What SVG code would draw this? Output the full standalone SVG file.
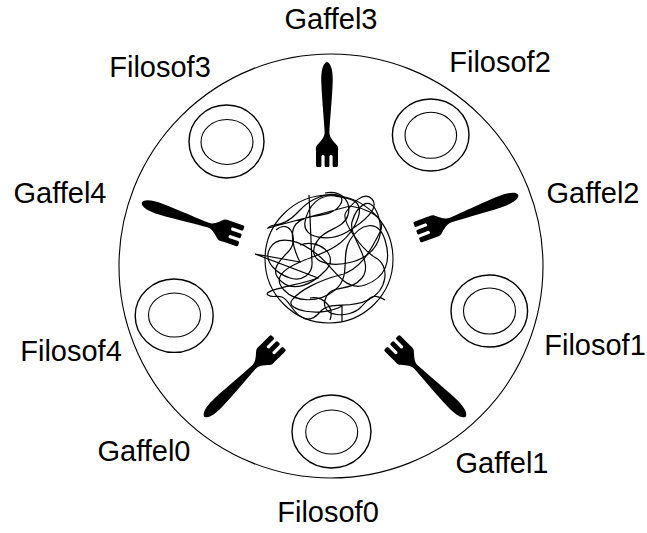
<svg xmlns="http://www.w3.org/2000/svg" xmlns:xlink="http://www.w3.org/1999/xlink" width="647" height="533" viewBox="0 0 647 533">
<style>
.line{fill:none;stroke:#000;stroke-width:1.1}
.spag{fill:none;stroke:#000;stroke-width:1.2}
.plate-out{fill:none;stroke:#000;stroke-width:1.4}
.plate-in{fill:none;stroke:#000;stroke-width:1.1}
.fork{fill:#000;stroke:none}
.lbl{font-family:"Liberation Sans",Arial,sans-serif;font-size:29px;fill:#000;text-anchor:middle}
</style>
<defs>
<path id="fork" d="M0,0 C1,-4.5 10,-6 20,-5.7 C38,-5 60,-2.8 70,-2.4 C76,-2.2 80,-7.5 84,-10.5 C86,-11.5 88,-11 90,-11 L103,-11 Q105,-11 105,-9.5 L105,-7 Q105,-5.6 103.5,-5.6 L94,-5.6 Q92,-4 94,-2.4 L103.5,-2.4 Q105,-2.4 105,-1.2 L105,1.2 Q105,2.4 103.5,2.4 L94,2.4 Q92,4 94,5.6 L103.5,5.6 Q105,5.6 105,7 L105,9.5 Q105,11 103,11 L90,11 C88,11 86,11.5 84,10.5 C80,7.5 76,2.2 70,2.4 C60,2.8 38,5 20,5.7 C10,6 1,4.5 0,0 Z"/>
</defs>
<rect width="647" height="533" fill="#fff"/>
<g id="table"><circle class="line" cx="331" cy="266" r="212"/></g>
<g id="bowl">
<circle class="line" cx="329" cy="259" r="64"/>
<path class="spag" d="M309,195 L312,262 C313,274 302,282 290,278 S262,262 270,248 S300,240 318,255 S345,292 365,285 S392,262 385,240 S360,224 350,240 S352,276 335,290 S295,302 284,290 S282,270 300,262 S342,250 355,225 S350,198 335,196 S308,205 305,222 S330,242 347,232 S380,208 372,199 S352,204 346,212 S362,250 376,258 S388,290 368,300 S330,300 320,312 S300,320 290,305 S275,300 268,295 S300,285 318,278 L255,254 L300,262 S286,236 296,224 S330,220 340,205 S318,190 300,210 S272,222 268,228 L350,206 S390,212 380,232 S360,270 340,275 S300,290 292,300 S320,318 342,306 L342,322"/>
<path class="spag" d="M325,193 C340,190 352,200 348,215 S322,228 315,245 S330,268 352,262 S386,238 378,215 S356,208 352,222 S375,262 362,278 S330,282 325,300 S350,318 360,308 S372,292 385,300 M276,230 C290,218 300,240 288,252 S270,272 282,282 S312,285 326,270 S318,238 300,245 M330,320 C335,306 322,296 310,298"/>
</g>
<g id="plate0"><ellipse class="plate-out" cx="331.5" cy="431.5" rx="39.5" ry="36.5"/><ellipse class="plate-in" cx="331.7" cy="432" rx="26" ry="22"/><text class="lbl" x="328" y="522">Filosof0</text></g>
<g id="plate1"><ellipse class="plate-out" cx="489.3" cy="311" rx="38.3" ry="36"/><ellipse class="plate-in" cx="489.5" cy="311" rx="26" ry="23"/><text class="lbl" x="595" y="355">Filosof1</text></g>
<g id="plate2"><ellipse class="plate-out" cx="430.7" cy="135" rx="38.3" ry="36"/><ellipse class="plate-in" cx="430.8" cy="135.3" rx="25.8" ry="23"/><text class="lbl" x="500" y="72">Filosof2</text></g>
<g id="plate3"><ellipse class="plate-out" cx="226.5" cy="141.5" rx="37.5" ry="36.5"/><ellipse class="plate-in" cx="227" cy="142" rx="26" ry="22.5"/><text class="lbl" x="160" y="77">Filosof3</text></g>
<g id="plate4"><ellipse class="plate-out" cx="174.2" cy="315.7" rx="39" ry="36.7"/><ellipse class="plate-in" cx="174.5" cy="315" rx="26" ry="22"/><text class="lbl" x="71" y="361">Filosof4</text></g>
<g id="fork0"><use xlink:href="#fork" href="#fork" class="fork" transform="translate(204.3,416.7) rotate(-45)"/><text class="lbl" x="144" y="461">Gaffel0</text></g>
<g id="fork1"><use xlink:href="#fork" href="#fork" class="fork" transform="translate(465.7,416.7) rotate(225)"/><text class="lbl" x="502" y="473">Gaffel1</text></g>
<g id="fork2"><use xlink:href="#fork" href="#fork" class="fork" transform="translate(518.3,195) rotate(159.7) scale(1.03,1)"/><text class="lbl" x="593" y="203">Gaffel2</text></g>
<g id="fork3"><use xlink:href="#fork" href="#fork" class="fork" transform="translate(327,62) rotate(90)"/><text class="lbl" x="331" y="29">Gaffel3</text></g>
<g id="fork4"><use xlink:href="#fork" href="#fork" class="fork" transform="translate(141.7,202.7) rotate(18.6)"/><text class="lbl" x="60" y="203">Gaffel4</text></g>
<g id="connectors"/>
</svg>
